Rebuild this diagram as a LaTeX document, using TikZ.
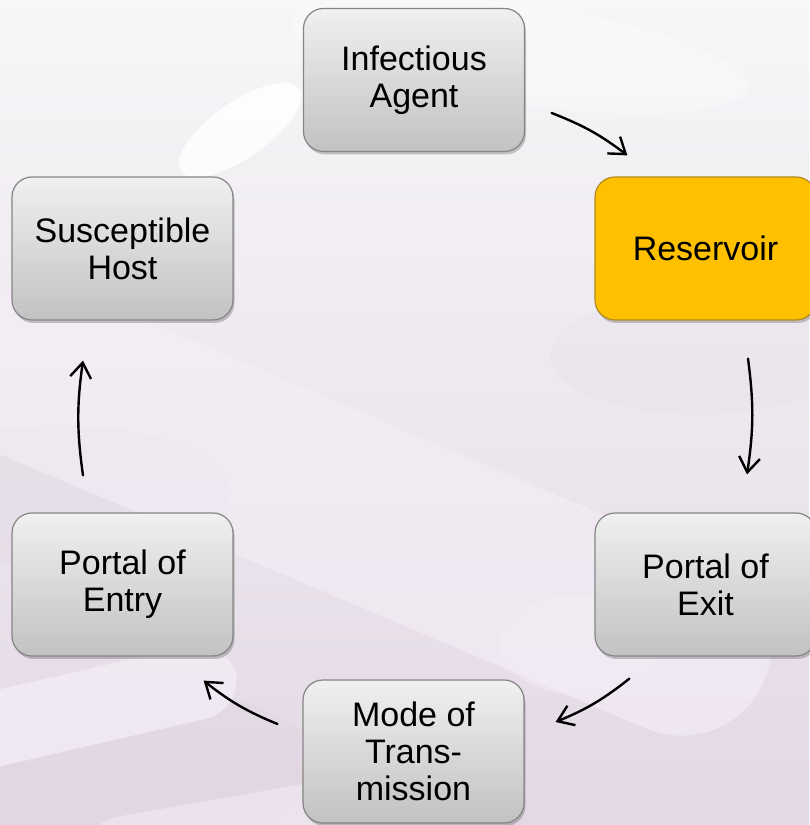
\documentclass[tikz,border=0pt]{standalone}
\usepackage{fontspec}
\setmainfont{Liberation Sans}
\usetikzlibrary{arrows.meta,shadows,calc}
\definecolor{bgtop}{HTML}{F7F6F8}
\definecolor{bgmid}{HTML}{EEE7F0}
\definecolor{bgbot}{HTML}{E3D8E5}
\definecolor{rod}{HTML}{F5EEF7}
\definecolor{dusk}{HTML}{DDD3DF}
\definecolor{boxtop}{HTML}{F0F0F0}
\definecolor{boxbot}{HTML}{C2C2C2}
\definecolor{boxline}{HTML}{858585}
\definecolor{amber}{HTML}{FFC000}
\definecolor{amberline}{HTML}{B08A20}

\begin{document}
\begin{tikzpicture}[x=1pt,y=1pt,
  stage/.style={rectangle, rounded corners=20pt, minimum width=221pt,
    minimum height=143pt, draw=boxline, line width=1.2pt,
    top color=boxtop, bottom color=boxbot,
    drop shadow={shadow xshift=1.5pt, shadow yshift=-3pt, opacity=0.3, fill=black!70},
    align=center, font=\fontsize{34}{37}\selectfont, inner sep=0pt},
  hot/.style={stage, top color=amber, bottom color=amber, draw=amberline},
  link/.style={-{Straight Barb[length=15pt,width=21pt]}, line width=2.4pt,
    bend left=8, line cap=round}]

\useasboundingbox (0,0) rectangle (809,825);

% soft lavender backdrop with faint rod-shaped cells
\begin{scope}
  \clip (0,0) rectangle (809,825);
  \shade[top color=bgtop, middle color=bgmid, bottom color=bgbot] (0,0) rectangle (809,825);
  \fill[dusk, opacity=0.3] (60,330) ellipse (170pt and 70pt);
  \fill[dusk, opacity=0.15] (700,470) ellipse (150pt and 60pt);
  \fill[dusk, opacity=0.3] (120,60) ellipse (200pt and 80pt);
  \fill[rod, opacity=0.6, rotate around={-23:(350,320)}, rounded corners=90pt]
    (-80,230) rectangle (800,410);
  \fill[rod, opacity=0.7, rotate around={13:(110,120)}, rounded corners=40pt]
    (-60,85) rectangle (240,160);
  \fill[rod, opacity=0.5, rotate around={10:(300,10)}, rounded corners=40pt]
    (80,-40) rectangle (520,40);
  \fill[rod, opacity=0.4] (580,180) ellipse (80pt and 50pt);
  \fill[white, opacity=0.85, rotate around={35:(240,695)}] (240,695) ellipse (72pt and 28pt);
  \fill[white, opacity=0.25, rotate around={-8:(520,770)}] (520,770) ellipse (230pt and 50pt);
\end{scope}

% the six links of the chain
\node[stage] (agent) at (414,745)   {Infectious\\Agent};
\node[hot]   (res)   at (705.5,576.5) {Reservoir};
\node[stage] (exit)  at (705.5,240.5) {Portal of\\Exit};
\node[stage] (mode)  at (413.5,73.5)  {Mode of\\Trans-\\mission};
\node[stage] (entry) at (122.5,240.5) {Portal of\\Entry};
\node[stage] (host)  at (122.5,576.5) {Susceptible\\Host};

% arrows around the chain
\draw[link] ($(agent.east)+(26.5,-33)$) to ($(res.north west)+(33,21)$);
\draw[link] ($(res.south)+(42.5,-38)$) to ($(exit.north)+(41.5,38)$);
\draw[link] ($(exit.south west)+(35,-22)$) to ($(mode.east)+(31,29.5)$);
\draw[link] ($(mode.west)+(-25,27.5)$) to ($(entry.south east)+(-30,-24)$);
\draw[link] ($(entry.north)+(-39.5,37)$) to ($(host.south)+(-39.5,-40)$);
\end{tikzpicture}
\end{document}
